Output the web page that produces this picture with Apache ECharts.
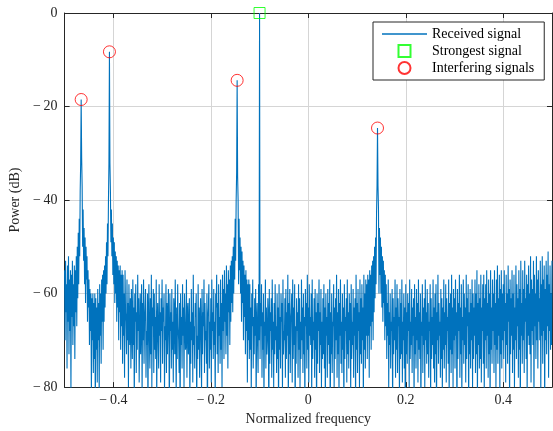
<!DOCTYPE html>
<html>
<head>
<meta charset="utf-8">
<script src="https://cdn.jsdelivr.net/npm/echarts@6/dist/echarts.min.js"></script>
<style>html,body{margin:0;padding:0;background:#fff;}#c{width:553px;height:431px;}</style>
</head>
<body>
<div id="c"></div>
<script>
// Frequency grid of the spectrum
const freqStart = -0.5;
const freqStep = 0.001;
// Received signal power (dB), one value per frequency bin
const power = [
-55,-70,-53,-64,-58,-76,-54,-66,-52,-73,-57,-68,-55,-81,-56,-65,-53,-71,-58,-67,
-54,-74,-55,-64,-52,-67,-50,-61,-47,-58,-44,-52,-38,-32,-18.5,-31,-37,-50,-42,-53,
-46,-58,-48,-62,-50,-57,-52,-66,-55,-63,-57,-71,-59,-68,-60,-82,-61,-70,-60,-77,
-62,-74,-60,-86,-61,-72,-63,-79,-59,-70,-62,-83,-58,-69,-60,-75,-57,-66,-56,-72,
-55,-66,-54,-63,-52,-60,-49,-58,-45,-52,-40,-32,-8.3,-32,-38,-49,-42,-52,-45,-56,
-48,-58,-49,-62,-51,-60,-52,-66,-53,-63,-54,-70,-55,-64,-54,-72,-56,-67,-55,-75,
-56,-69,-60,-78,-55,-64,-66,-73,-57,-70,-62,-80,-58,-67,-71,-61,-76,-59,-65,-74,
-57,-71,-63,-84,-60,-66,-58,-77,-64,-72,-56,-68,-61,-79,-69,-60,-73,-65,-58,-82,
-62,-70,-57,-75,-66,-63,-59,-78,-68,-71,-60,-87,-64,-58,-70,-76,-61,-73,-56,-80,
-63,-67,-59,-77,-60,-72,-65,-74,-57,-83,-66,-62,-70,-76,-58,-69,-64,-79,-61,-68,
-57,-75,-63,-66,-60,-81,-67,-70,-58,-77,-62,-73,-65,-59,-71,-85,-60,-68,-64,-76,
-59,-72,-66,-79,-61,-64,-73,-57,-69,-82,-63,-74,-58,-67,-70,-77,-62,-88,-60,-71,
-65,-76,-58,-69,-63,-80,-60,-66,-72,-71,-57,-78,-64,-62,-73,-68,-61,-84,-66,-75,
-59,-70,-64,-79,-56,-71,-67,-76,-62,-65,-60,-86,-69,-74,-58,-72,-63,-78,-66,-61,
-70,-81,-59,-73,-64,-67,-57,-77,-62,-70,-68,-75,-60,-90,-65,-63,-58,-76,-66,-72,
-61,-79,-57,-68,-64,-74,-59,-71,-66,-83,-60,-63,-56,-73,-62,-77,-58,-69,-65,-75,
-57,-72,-62,-80,-56,-68,-59,-74,-55,-66,-60,-73,-54,-69,-58,-76,-55,-64,-57,-71,
-54,-66,-53,-62,-52,-64,-50,-60,-48,-57,-44,-53,-40,-34,-14.4,-35,-40,-58,-44,-55,
-48,-60,-50,-66,-51,-62,-53,-70,-54,-65,-56,-73,-55,-68,-57,-79,-58,-70,-57,-74,
-58,-72,-63,-81,-60,-67,-57,-76,-65,-73,-61,-69,-59,-85,-66,-62,-71,-77,-58,-70,
0,-74,-62,-67,-58,-78,-64,-72,-60,-83,-66,-69,-57,-76,-63,-73,-70,-61,-65,-89,
-59,-75,-64,-68,-61,-78,-57,-72,-66,-80,-62,-73,-58,-70,-67,-77,-60,-74,-63,-86,
-58,-72,-65,-76,-60,-66,-62,-81,-57,-73,-68,-70,-61,-78,-59,-74,-64,-69,-56,-84,
-62,-73,-59,-77,-66,-64,-60,-79,-57,-74,-63,-71,-58,-88,-67,-75,-61,-68,-64,-78,
-58,-72,-61,-80,-66,-74,-57,-70,-63,-77,-60,-73,-65,-85,-59,-67,-62,-76,-56,-72,
-63,-79,-58,-69,-65,-71,-60,-82,-57,-74,-66,-70,-61,-78,-59,-72,-64,-87,-60,-75,
-62,-68,-57,-77,-64,-71,-59,-80,-66,-74,-61,-73,-58,-76,-63,-84,-60,-69,-65,-78,
-59,-71,-62,-75,-57,-89,-64,-73,-60,-77,-66,-67,-58,-80,-63,-74,-61,-70,-56,-78,
-64,-73,-59,-82,-62,-69,-57,-75,-66,-77,-60,-72,-63,-86,-58,-74,-65,-68,-61,-79,
-57,-73,-64,-76,-60,-70,-62,-81,-58,-74,-66,-71,-59,-78,-63,-69,-61,-84,-56,-72,
-62,-77,-59,-68,-64,-80,-57,-73,-61,-75,-58,-70,-63,-83,-56,-72,-60,-76,-57,-69,
-58,-74,-56,-69,-57,-78,-55,-67,-56,-72,-54,-66,-53,-70,-52,-64,-50,-61,-48,-58,
-43,-37,-24.6,-37,-42,-60,-46,-56,-48,-60,-50,-63,-52,-66,-53,-62,-55,-70,-56,-67,
-58,-74,-62,-69,-57,-80,-64,-71,-60,-76,-66,-68,-59,-85,-61,-73,-65,-70,-57,-78,
-63,-72,-58,-77,-61,-67,-65,-82,-59,-74,-62,-73,-57,-79,-66,-70,-60,-76,-63,-88,
-58,-73,-64,-75,-60,-68,-62,-80,-57,-74,-66,-71,-59,-77,-63,-69,-61,-84,-58,-73,
-65,-76,-59,-70,-62,-79,-57,-72,-64,-74,-60,-86,-66,-69,-58,-77,-63,-71,-61,-80,
-57,-70,-64,-75,-59,-73,-62,-78,-66,-68,-58,-83,-61,-74,-65,-71,-57,-76,-63,-79,
-60,-73,-58,-87,-64,-70,-56,-75,-62,-69,-66,-78,-59,-74,-61,-81,-63,-72,-57,-76,
-64,-71,-58,-79,-61,-68,-65,-75,-57,-84,-62,-72,-60,-77,-56,-73,-63,-80,-59,-70,
-61,-76,-57,-69,-64,-89,-59,-74,-62,-68,-56,-78,-63,-73,-58,-82,-65,-70,-57,-75,
-60,-71,-63,-79,-56,-74,-61,-67,-58,-85,-64,-73,-59,-76,-62,-70,-57,-80,-60,-74,
-63,-69,-57,-77,-60,-73,-55,-83,-62,-71,-58,-76,-61,-74,-56,-79,-63,-68,-58,-75,
-56,-81,-61,-70,-58,-76,-55,-69,-62,-78,-57,-73,-60,-86,-55,-72,-63,-75,-57,-68,
-60,-77,-55,-71,-62,-80,-57,-72,-54,-75,-61,-69,-56,-82,-59,-73,-55,-76,-60,-70,
-58,-74,-55,-68,-62,-79,-56,-71,-60,-75,-54,-66,-59,-84,-57,-73,-61,-69,-55,-77,
-60,-72,-56,-80,-63,-70,-54,-74,-58,-67,-61,-78,-55,-72,-59,-87,-53,-69,-62,-75,
-55,-70,-59,-77,-53,-66,-61,-74,-56,-82,-58,-69,-54,-71,-60,-73,-52,-79,-57,-68,
-59,-71,-53,-83,-56,-67,-60,-74,-52,-70,-57,-76,-55,-66,-61,-70,-53,-81,-58,-69,
-52,-75,-57,-68,-54,-85,-59,-70,-53,-73,-56,-67,-51,-78,-58,-68,-54,-72,-60,-71,
-53
];
// Strongest signal
const strongestFreq = [-0.1];
const strongestPower = [0];
// Interfering signals
const interfFreq = [-0.466, -0.408, -0.146, 0.142];
const interfPower = [-18.5, -8.3, -14.4, -24.6];
// Axis ticks
const xTicks = [-0.4, -0.2, 0, 0.2, 0.4];

const lineData = power.map((p, i) => [+(freqStart + i * freqStep).toFixed(4), p]);
const strongData = strongestFreq.map((f, i) => [f, strongestPower[i]]);
const interfData = interfFreq.map((f, i) => [f, interfPower[i]]);

const FONT = 'Liberation Serif';
const AX = '#262626';
const GRID = '#d5d5d5';
const fmt = v => (Math.abs(v) < 1e-9 ? '0' : (v < 0 ? '\u2212\u2009' : '') + String(+Math.abs(v).toFixed(2)));

const chart = echarts.init(document.getElementById('c'), null, {renderer: 'canvas'});
chart.setOption({
  animation: false,
  backgroundColor: '#fff',
  grid: {left: 64, right: 1, top: 13, bottom: 41, containLabel: false},
  legend: {
    orient: 'vertical',
    left: 373, top: 22,
    padding: [5, 10, 5, 9],
    itemGap: 3,
    itemWidth: 45, itemHeight: 12,
    borderColor: AX, borderWidth: 1,
    backgroundColor: '#fff',
    textStyle: {fontFamily: FONT, fontSize: 14, lineHeight: 14, color: '#000'},
    data: [
      {name: 'Received signal', icon: 'path://M0,0H45V1.4H0Z'},
      {name: 'Strongest signal', icon: 'path://M0,0H10V10H0Z'},
      {name: 'Interfering signals', icon: 'circle'}
    ]
  },
  xAxis: [{
    type: 'value', min: -0.5, max: 0.5,
    name: 'Normalized frequency', nameLocation: 'middle', nameGap: 22,
    nameTextStyle: {fontFamily: FONT, fontSize: 14, color: AX},
    axisLine: {show: true, onZero: false, lineStyle: {color: AX, width: 1}},
    axisTick: {show: true, inside: true, length: 5, customValues: xTicks, lineStyle: {color: AX}},
    axisLabel: {customValues: xTicks, formatter: fmt, fontFamily: FONT, fontSize: 14, color: AX, margin: 6},
    splitLine: {show: true, lineStyle: {color: GRID, width: 1}}
  }, {
    type: 'value', min: -0.5, max: 0.5, position: 'top',
    axisLine: {show: true, onZero: false, lineStyle: {color: AX, width: 1}},
    axisTick: {show: true, inside: true, length: 5, customValues: xTicks, lineStyle: {color: AX}},
    axisLabel: {show: false},
    splitLine: {show: false}
  }],
  yAxis: [{
    type: 'value', min: -80, max: 0, interval: 20,
    name: 'Power (dB)', nameLocation: 'middle', nameGap: 35,
    nameTextStyle: {fontFamily: FONT, fontSize: 14, color: AX},
    axisLine: {show: true, onZero: false, lineStyle: {color: AX, width: 1}},
    axisTick: {show: true, inside: true, length: 5, lineStyle: {color: AX}},
    axisLabel: {formatter: fmt, fontFamily: FONT, fontSize: 14, color: AX, margin: 7},
    splitLine: {show: true, lineStyle: {color: GRID, width: 1}}
  }, {
    type: 'value', min: -80, max: 0, interval: 20, position: 'right',
    axisLine: {show: true, onZero: false, lineStyle: {color: AX, width: 1}},
    axisTick: {show: true, inside: true, length: 5, lineStyle: {color: AX}},
    axisLabel: {show: false},
    splitLine: {show: false}
  }],
  series: [{
    name: 'Received signal', type: 'line', data: lineData,
    showSymbol: false, symbol: 'none', clip: true,
    lineStyle: {color: '#0072BD', width: 1.1},
    itemStyle: {color: '#0072BD'},
    z: 2
  }, {
    name: 'Strongest signal', type: 'scatter', data: strongData,
    symbol: 'rect', symbolSize: 11, clip: false,
    itemStyle: {color: 'rgba(0,0,0,0)', borderColor: '#00ff00', borderWidth: 1},
    z: 5
  }, {
    name: 'Interfering signals', type: 'scatter', data: interfData,
    symbol: 'circle', symbolSize: 12, clip: false,
    itemStyle: {color: 'rgba(0,0,0,0)', borderColor: '#ff0000', borderWidth: 1},
    z: 5
  }]
});
</script>
</body>
</html>
